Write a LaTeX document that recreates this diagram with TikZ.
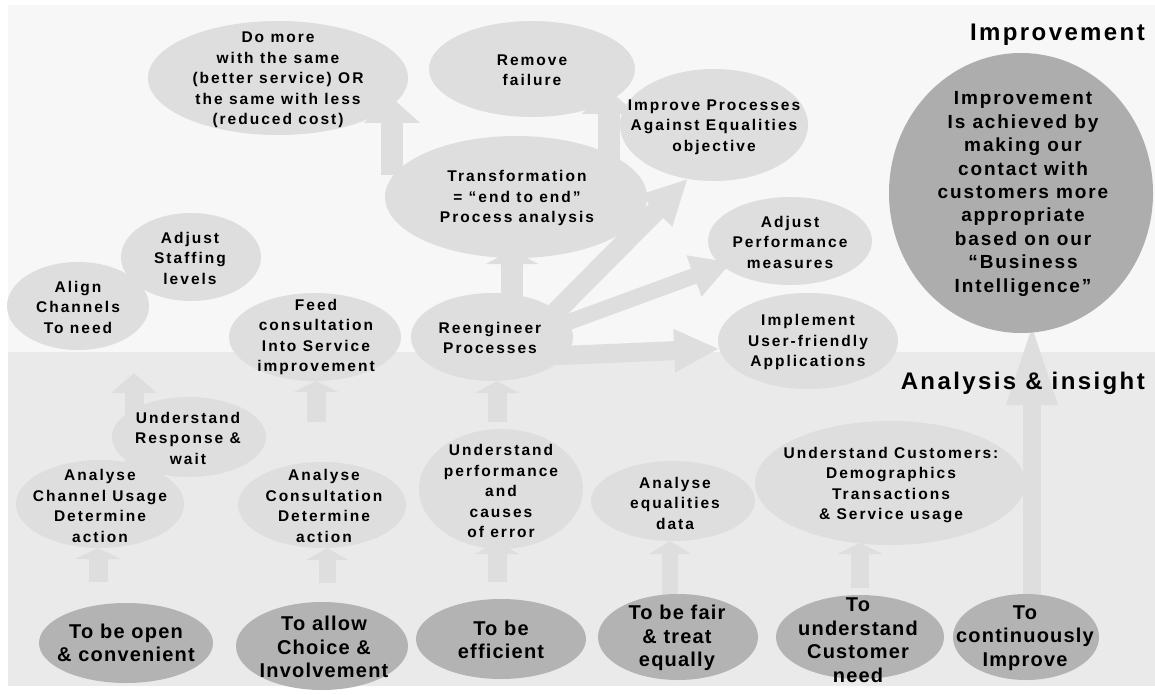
\documentclass[tikz,border=0pt]{standalone}
\usepackage{fontspec}
\usetikzlibrary{shapes.geometric,arrows.meta,calc}
\newfontfamily\fS[LetterSpace=13]{Liberation Sans}
\newfontfamily\fB[LetterSpace=6]{Liberation Sans}
\newfontfamily\fC[LetterSpace=10]{Liberation Sans}
\newfontfamily\fT[LetterSpace=10]{Liberation Sans}
\definecolor{topband}{HTML}{F7F7F7}
\definecolor{botband}{HTML}{EAEAEA}
\definecolor{lightell}{HTML}{DEDEDE}
\definecolor{darkell}{HTML}{B3B3B3}
\definecolor{circc}{HTML}{ADADAD}
\definecolor{arrowc}{HTML}{DEDEDE}
\pgfdeclarelayer{bg}
\pgfdeclarelayer{arr}
\pgfsetlayers{bg,arr,main}
\begin{document}
\begin{tikzpicture}[x=1pt,y=-1pt,
  ell/.style={ellipse, fill=lightell, inner sep=0pt, outer sep=0pt},
  dell/.style={ellipse, fill=darkell, inner sep=0pt, outer sep=0pt},
  txt/.style={align=center, inner sep=0pt, font=\fS\bfseries\fontsize{15.5}{20.5}\selectfont},
  btxt/.style={align=center, inner sep=0pt, font=\fB\bfseries\fontsize{20}{23.5}\selectfont},
  ctxt/.style={align=center, inner sep=0pt, font=\fC\bfseries\fontsize{19}{23.4}\selectfont},
  ttxt/.style={inner sep=0pt, font=\fT\bfseries\fontsize{24}{28}\selectfont},
  bar/.style n args={3}{draw=arrowc, line width=#1pt, -{Triangle[width=#2pt,length=#3pt]}}
]
\useasboundingbox (0,0) rectangle (1155,695);
\begin{pgfonlayer}{bg}
\fill[topband] (8,5) rectangle (1155,352);
\fill[botband] (8,352) rectangle (1155,686);
\end{pgfonlayer}

% ellipses
\node[ell, minimum width=260pt, minimum height=114pt] (domore) at (278,78) {};
\node[ell, minimum width=206pt, minimum height=96pt] (remove) at (532,69) {};
\node[ell, minimum width=188pt, minimum height=112pt] (improveproc) at (714,125) {};
\node[ell, minimum width=262pt, minimum height=122pt] (trans) at (516,197) {};
\node[ell, minimum width=162pt, minimum height=88pt] (reeng) at (492,337) {};
\node[ell, minimum width=164pt, minimum height=88pt] (adjperf) at (790,241) {};
\node[ell, minimum width=180pt, minimum height=96pt] (impl) at (808,341) {};
\node[ell, fill=circc, minimum width=264pt, minimum height=280pt] (circle) at (1021,193) {};
\node[ell, minimum width=140pt, minimum height=88pt] (staff) at (191,257) {};
\node[ell, minimum width=142pt, minimum height=88pt] (align) at (78,306) {};
\node[ell, minimum width=172pt, minimum height=88pt] (feed) at (315,337) {};
\node[ell, minimum width=168pt, minimum height=88pt] (chan) at (100,504) {};
\node[ell, minimum width=154pt, minimum height=80pt] (resp) at (189,437) {};
\node[ell, minimum width=168pt, minimum height=86pt] (consult) at (322,505) {};
\node[ell, minimum width=164pt, minimum height=120pt] (perf) at (501,489) {};
\node[ell, minimum width=164pt, minimum height=80pt] (eqd) at (673,501) {};
\node[ell, minimum width=270pt, minimum height=124pt] (cust) at (890,483) {};
\node[dell, minimum width=174pt, minimum height=80pt] (open) at (126,643) {};
\node[dell, minimum width=172pt, minimum height=88pt] (allow) at (322,646) {};
\node[dell, minimum width=170pt, minimum height=80pt] (eff) at (501,639) {};
\node[dell, minimum width=160pt, minimum height=86pt] (fair) at (678,637) {};
\node[dell, minimum width=168pt, minimum height=84pt] (need) at (860,637) {};
\node[dell, minimum width=146pt, minimum height=86pt] (cont) at (1026,637) {};
\coordinate (chantip) at (134,373);

% arrows (behind the ellipses)
\begin{pgfonlayer}{arr}
\draw[bar={22}{55}{25}] ($(trans)+(-124,-22)$) -- ($(domore)+(114,20)$);
\draw[bar={22}{54}{24}] ($(trans)+(93,-37)$) -- ($(remove)+(77,21)$);
\draw[bar={22}{52}{14}] ($(reeng)+(20,-30)$) -- ($(trans)+(-4,53)$);
\draw[bar={20}{42}{45}, shorten <=-14pt] (reeng.22) -- (improveproc.244);
\draw[bar={16}{41}{40}, shorten <=-12pt, shorten >=-10pt] (reeng.11) -- (adjperf.200);
\draw[bar={19}{40}{45}, shorten <=-10pt] (reeng.346) -- (impl.185);
\draw[bar={18}{46}{83}] ($(cont)+(6,-42)$) -- ($(circle)+(11,129)$);
\draw[bar={19}{45}{11}] ($(open)+(-28,-61)$) -- ($(chan)+(-2,44)$);
\draw[bar={19}{45}{20}] ($(chan)+(34,-24)$) -- (chantip);
\draw[bar={19}{44}{11}] ($(consult)+(-6,-83)$) -- ($(feed)+(1,44)$);
\draw[bar={17}{41}{12}] ($(allow)+(5,-63)$) -- ($(consult)+(5,43)$);
\draw[bar={19}{44}{12}] ($(eff)+(-4,-57)$) -- ($(perf)+(-4,53)$);
\draw[bar={19}{44}{12}] ($(perf)+(-4,-67)$) -- ($(reeng)+(5,44)$);
\draw[bar={16}{41}{13}] ($(fair)+(-8,-40)$) -- ($(eqd)+(-3,40)$);
\draw[bar={18}{45}{11}] ($(need)+(0,-49)$) -- ($(cust)+(-30,60)$);
\end{pgfonlayer}

% texts
\node[txt] (domore-t) at ($(domore)+(0,2)$) {Do more\\with the same\\(better service) OR\\the same with less\\(reduced cost)};
\node[txt] (remove-t) at ($(remove)+(0,1)$) {Remove\\failure};
\node[txt] (improveproc-t) at ($(improveproc)+(0,2)$) {Improve Processes\\Against Equalities\\objective};
\node[txt] (trans-t) at ($(trans)+(1,1)$) {Transformation\\= “end to end”\\Process analysis};
\node[txt] (reeng-t) at ($(reeng)+(-2,1)$) {Reengineer\\Processes};
\node[txt] (adjperf-t) at ($(adjperf)+(0,1)$) {Adjust\\Performance\\measures};
\node[txt] (impl-t) at ($(impl)+(0,1)$) {Implement\\User-friendly\\Applications};
\node[ctxt] (circle-t) at ($(circle)+(2,1)$) {Improvement\\Is achieved by\\making our\\contact with\\customers more\\appropriate\\based on our\\“Business\\Intelligence”};
\node[txt] (staff-t) at ($(staff)+(-1,1)$) {Adjust\\Staffing\\levels};
\node[txt] (align-t) at ($(align)+(0,1)$) {Align\\Channels\\To need};
\node[txt] (feed-t) at ($(feed)+(1,0)$) {Feed\\consultation\\Into Service\\improvement};
\node[txt] (resp-t) at ($(resp)+(-1,1)$) {Understand\\Response \&\\wait};
\node[txt] (chan-t) at ($(chan)+(0,2)$) {Analyse\\Channel Usage\\Determine\\action};
\node[txt] (consult-t) at ($(consult)+(2,1)$) {Analyse\\Consultation\\Determine\\action};
\node[txt] (perf-t) at ($(perf)+(0,2)$) {Understand\\performance\\and\\causes\\of error};
\node[txt] (eqd-t) at ($(eqd)+(2,2)$) {Analyse\\equalities\\data};
\node[txt] (cust-t) at ($(cust)+(1,2)$) {Understand Customers:\\Demographics\\Transactions\\\& Service usage};
\node[btxt] (open-t) at (open) {To be open\\\& convenient};
\node[btxt] (allow-t) at ($(allow)+(2,1)$) {To allow\\Choice \&\\Involvement};
\node[btxt] (eff-t) at ($(eff)+(0,1)$) {To be\\efficient};
\node[btxt] (fair-t) at ($(fair)+(-1,1)$) {To be fair\\\& treat\\equally};
\node[btxt] (need-t) at ($(need)+(-2,3)$) {To\\understand\\Customer\\need};
\node[btxt] (cont-t) at ($(cont)+(-1,1)$) {To\\continuously\\Improve};

% titles
\node[ttxt, anchor=east] (title1) at (1145,35) {Improvement};
\node[ttxt, anchor=east] (title2) at (1145,383) {Analysis \& insight};
\end{tikzpicture}
\end{document}
